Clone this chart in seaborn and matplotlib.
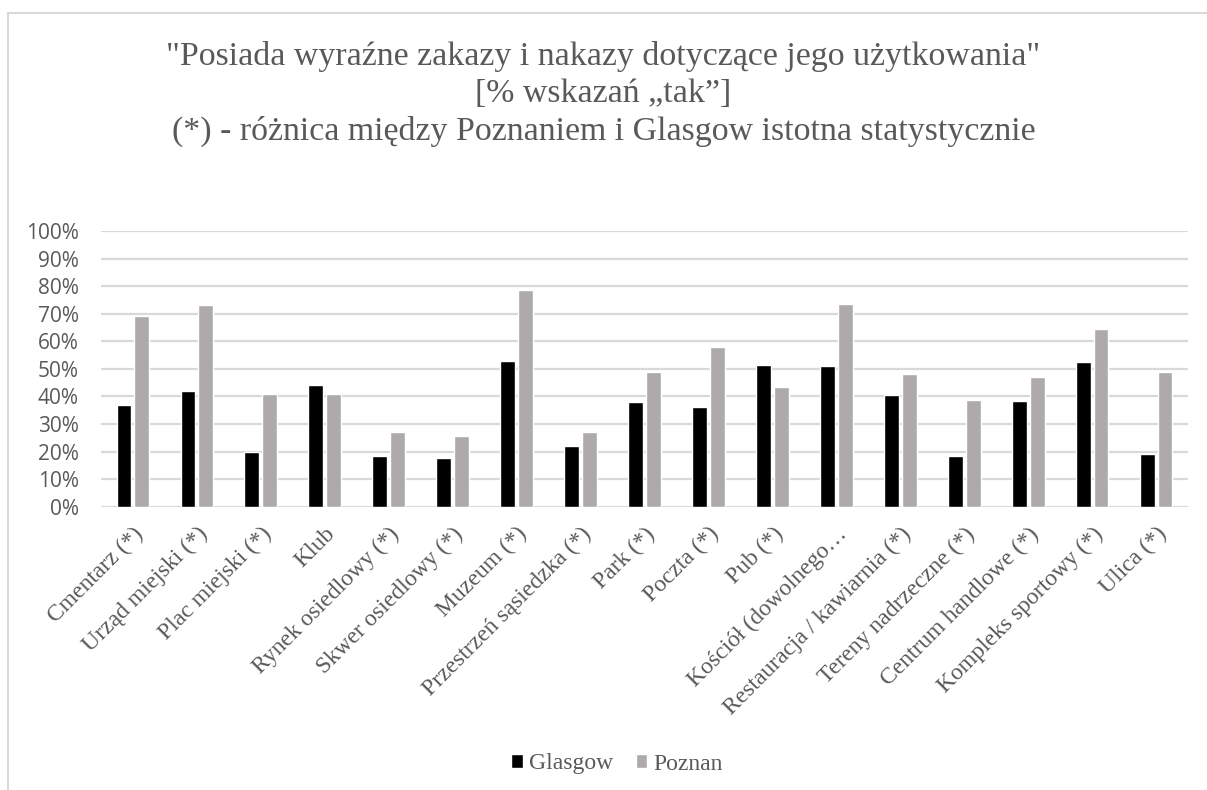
import matplotlib.pyplot as plt
import numpy as np
import pandas as pd
import seaborn as sns
from matplotlib.lines import Line2D

places = [
    "Cmentarz (*)", "Urząd miejski (*)", "Plac miejski (*)", "Klub",
    "Rynek osiedlowy (*)", "Skwer osiedlowy (*)", "Muzeum (*)",
    "Przestrzeń sąsiedzka (*)", "Park (*)", "Poczta (*)", "Pub (*)",
    "Kościół (dowolnego…", "Restauracja / kawiarnia (*)",
    "Tereny nadrzeczne (*)", "Centrum handlowe (*)",
    "Kompleks sportowy (*)", "Ulica (*)",
]
glasgow = [0.37, 0.42, 0.20, 0.44, 0.184, 0.175, 0.53, 0.22, 0.38, 0.36,
           0.515, 0.51, 0.405, 0.185, 0.385, 0.525, 0.19]
poznan = [0.69, 0.73, 0.41, 0.41, 0.27, 0.255, 0.785, 0.27, 0.49, 0.58,
          0.435, 0.735, 0.48, 0.387, 0.47, 0.645, 0.49]
yticks = np.arange(0, 1.01, 0.1)

title = ('"Posiada wyraźne zakazy i nakazy dotyczące jego użytkowania"\n'
         '[% wskazań „tak”]\n'
         '(*) - różnica między Poznaniem i Glasgow istotna statystycznie')

df = pd.DataFrame({
    "place": places * 2,
    "city": ["Glasgow"] * len(places) + ["Poznan"] * len(places),
    "value": glasgow + poznan,
})

sns.set_theme(style="white")
gray_txt = "#595959"
serif = ["Liberation Serif", "DejaVu Serif"]

fig = plt.figure(figsize=(12.07, 7.90), dpi=100)
ax = fig.add_axes([101 / 1207, 1 - 506.7 / 790, (1188 - 101) / 1207, (506.7 - 231) / 790])

sns.barplot(
    data=df, x="place", y="value", hue="city",
    palette={"Glasgow": "#000000", "Poznan": "#aeaaaa"},
    width=0.56, gap=0.17, saturation=1, ax=ax, legend=True,
)

ax.set_ylim(0, 1)
ax.set_yticks(yticks)
ax.set_yticklabels([f"{int(round(t * 100))}%" for t in yticks],
                   fontsize=15, color=gray_txt, family=["Open Sans", "DejaVu Sans"])
ax.yaxis.grid(True, color="#d9d9d9", linewidth=1.6)
ax.set_axisbelow(True)
for s in ax.spines.values():
    s.set_visible(False)
ax.tick_params(axis="y", length=0, pad=16)
ax.tick_params(axis="x", length=0, pad=12)
ax.set_xlabel("")
ax.set_ylabel("")
ax.set_xticks(range(len(places)))
ax.set_xticklabels(places, rotation=45, ha="right", va="top",
                   rotation_mode="anchor", fontsize=17, color=gray_txt, family=serif)

handles, labels = ax.get_legend_handles_labels()
ax.get_legend().remove()
fig.legend(handles, labels, loc="center", bbox_to_anchor=(617 / 1207, 1 - 764 / 790),
           ncol=2, frameon=False, handlelength=0.5, handleheight=0.5,
           handletextpad=0.25, columnspacing=0.95,
           prop={"family": serif, "size": 17}, labelcolor=gray_txt)

fig.text(0.5, 1 - 94 / 790, title, ha="center", va="center", fontsize=24.4,
         color=gray_txt, family=serif, linespacing=1.27)

# chart frame
fig.add_artist(Line2D([8 / 1207, 8 / 1207], [0, 1 - 13 / 790],
                      transform=fig.transFigure, color="#d9d9d9", lw=1.5))
fig.add_artist(Line2D([8 / 1207, 1], [1 - 13 / 790, 1 - 13 / 790],
                      transform=fig.transFigure, color="#d9d9d9", lw=1.5))

fig.savefig("out.png", dpi=100)
